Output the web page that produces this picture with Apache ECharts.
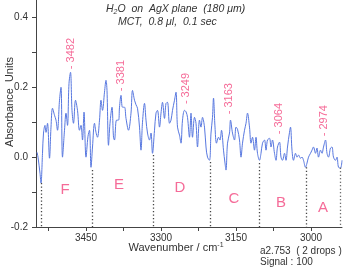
<!DOCTYPE html>
<html>
<head>
<meta charset="utf-8">
<script src="https://cdn.jsdelivr.net/npm/echarts@6/dist/echarts.min.js"></script>
<style>html,body{margin:0;padding:0;background:#fff;}#c{width:343px;height:268px;}</style>
</head>
<body>
<div id="c"></div>
<script>
const wavenumbers = [3548,3546,3542,3540,3537,3535,3532,3530,3527,3523,3520,3517,3513,3510,3507,3503,3500,3497,3493,3490,3487,3484,3481,3478,3475,3471,3467,3463,3460,3457,3454,3450,3446,3443,3440,3437,3433,3430,3427,3423,3420,3417,3413,3410,3408,3405,3402,3398,3395,3393,3389,3385,3383,3380,3377,3373,3370,3365,3360,3357,3353,3350,3347,3343,3340,3337,3333,3330,3327,3323,3320,3317,3313,3310,3307,3303,3300,3297,3293,3290,3287,3283,3280,3277,3273,3270,3267,3263,3260,3257,3253,3250,3247,3243,3240,3237,3233,3230,3227,3223,3220,3217,3213,3210,3207,3203,3200,3197,3195,3192,3189,3185,3182,3179,3175,3172,3170,3167,3163,3161,3157,3153,3150,3147,3143,3140,3137,3133,3130,3127,3123,3120,3117,3113,3110,3107,3103,3100,3097,3093,3090,3087,3083,3080,3077,3073,3070,3067,3063,3060,3057,3053,3050,3047,3043,3041,3038,3035,3031,3028,3025,3021,3018,3015,3011,3008,3005,3001,2998,2995,2991,2988,2985,2981,2978,2975,2971,2968,2965,2961,2958,2955,2951,2948,2945,2941,2938];
const absorbance = [0.014,0.0,-0.046,-0.074,0.011,0.069,0.091,0.071,0.097,-0.003,0.086,0.14,0.12,0.106,0.077,0.163,0.2,0.0,0.077,0.126,0.091,0.211,0.243,0.134,0.097,0.163,0.134,0.077,0.091,0.049,0.129,0.0,0.06,0.077,-0.029,0.029,0.097,0.071,0.057,0.106,0.163,0.134,0.186,0.22,0.191,0.034,0.097,0.143,0.057,0.049,0.106,0.106,0.143,0.177,0.143,0.143,0.111,0.077,0.126,0.191,0.163,0.15,0.14,0.086,0.02,0.1,0.154,0.106,0.069,0.049,0.069,0.011,0.077,0.126,0.134,0.086,0.126,0.157,0.111,0.154,0.157,0.097,0.106,0.134,0.163,0.186,0.086,0.063,0.04,0.106,0.134,0.13,0.114,0.057,0.126,0.057,0.114,0.097,0.029,0.106,0.086,0.114,0.086,0.029,0.0,-0.009,0.069,0.114,0.169,0.086,0.04,0.057,0.049,0.077,0.02,-0.017,-0.037,0.04,0.069,0.106,0.069,0.049,0.086,0.08,0.049,0.0,0.04,0.077,0.097,0.126,0.086,0.04,0.057,0.02,0.057,0.011,-0.009,0.011,0.04,0.049,0.02,0.049,0.054,0.029,0.049,0.011,-0.009,0.029,0.043,0.0,-0.009,0.011,-0.009,0.029,0.071,0.086,0.02,-0.009,0.011,0.0,0.006,-0.003,0.0,-0.009,-0.029,-0.017,0.0,0.011,0.02,0.029,0.011,0.026,0.0,0.02,0.011,0.029,0.049,0.011,0.0,0.026,0.029,0.0,-0.009,0.0,-0.029,-0.031,-0.009];

const peakLabels = ['3482','3381','3249','3163','3064','2974'];
const peakWn = [3480,3380,3250,3164,3064,2974];
const peakAbs = [0.249,0.186,0.149,0.12,0.063,0.057];

const dividerWn = [3540,3438,3316,3202,3104,3010,2942];
const dividerTop = [-0.074,-0.037,0.006,-0.014,-0.017,-0.029,-0.03];

const regionLetters = ['F','E','D','C','B','A'];
const regionWn = [3492,3384,3262,3154,3060,2976];
const regionAbs = [-0.094,-0.08,-0.089,-0.12,-0.131,-0.146];

const xTickLabels = [3450,3300,3150,3000];
const xTicks = [3525,3450,3375,3300,3225,3150,3075,3000];
const yTickLabels = [-0.2,0,0.2,0.4];
const yTicks = [-0.2,-0.1,0,0.1,0.2,0.3,0.4];

const FONT = 'Liberation Sans, Arial, sans-serif';
const PINK = '#f2467e';
const chart = echarts.init(document.getElementById('c'), null, {renderer:'canvas'});

const spectrum = wavenumbers.map((w,i)=>[w, absorbance[i]]);
const peaks = peakWn.map((w,i)=>({value:[w, peakAbs[i]], name:peakLabels[i]}));
const letters = regionWn.map((w,i)=>({value:[w, regionAbs[i]], name:regionLetters[i]}));
const dividers = dividerWn.map((w,i)=>[{coord:[w, dividerTop[i]]},{coord:[w, -0.2]}]);

chart.setOption({
  animation:false,
  backgroundColor:'#fff',
  grid:{left:36, right:1, top:0, bottom:41, containLabel:false},
  xAxis:{
    type:'value', min:2938, max:3550, inverse:true,
    axisLine:{show:true, onZero:false, lineStyle:{color:'#444', width:1}},
    axisTick:{show:true, customValues:xTicks, length:4, lineStyle:{color:'#444'}},
    axisLabel:{customValues:xTickLabels, color:'#333', fontSize:10, fontFamily:FONT, margin:6,
      formatter:v=>String(Math.round(v))},
    splitLine:{show:false}
  },
  yAxis:{
    type:'value', min:-0.2, max:0.45,
    axisLine:{show:true, onZero:false, lineStyle:{color:'#444', width:1}},
    axisTick:{show:true, customValues:yTicks, length:4, lineStyle:{color:'#444'}},
    axisLabel:{customValues:yTickLabels, color:'#333', fontSize:10, fontFamily:FONT, margin:8,
      formatter:v=>(Math.abs(v)<1e-9?0:v).toFixed(1)},
    splitLine:{show:false}
  },
  series:[
    {type:'line', data:spectrum, showSymbol:false, smooth:0.35, clip:true,
      lineStyle:{color:'#5878e0', width:1}, silent:true,
      markLine:{silent:true, symbol:'none', label:{show:false},
        lineStyle:{color:'#444', type:[1.2,2.3], width:1.3}, data:dividers}},
    {type:'scatter', data:peaks, symbolSize:0, silent:true,
      label:{show:true, formatter:p=>'- '+p.name, rotate:90, position:'top', distance:1,
        align:'left', verticalAlign:'middle', color:PINK, fontSize:11, fontFamily:FONT}},
    {type:'scatter', data:letters, symbolSize:0, silent:true,
      label:{show:true, formatter:p=>p.name, position:'inside', color:PINK, fontSize:15, fontFamily:FONT}}
  ],
  graphic:[
    {type:'text', left:106, top:4, style:{
      text:'{i|H}{s|2}{i|O  on  AgX plane  (180 \u03bcm)}',
      rich:{i:{fontSize:10.5, fontStyle:'italic', fontFamily:FONT, fill:'#333', lineHeight:13},
            s:{fontSize:7, fontStyle:'italic', fontFamily:FONT, fill:'#333', verticalAlign:'bottom', lineHeight:9}}}},
    {type:'text', left:118, top:17, style:{text:'MCT,  0.8 \u03bcl,  0.1 sec', font:'italic 10.5px '+FONT, fill:'#333'}},
    {type:'text', x:10, y:102, rotation:Math.PI/2, style:{text:'Absorbance  Units', font:'11px '+FONT, fill:'#333', align:'center', verticalAlign:'middle'}},
    {type:'text', x:176, y:248, style:{text:'{n|Wavenumber / cm}{p|-1}',
      align:'center', verticalAlign:'middle',
      rich:{n:{fontSize:11, fontFamily:FONT, fill:'#333', lineHeight:13},
            p:{fontSize:7, fontFamily:FONT, fill:'#333', verticalAlign:'top', lineHeight:9}}}},
    {type:'text', left:260, top:246, style:{text:'a2.753  ( 2 drops )', font:'10px '+FONT, fill:'#333'}},
    {type:'text', left:260, top:257, style:{text:'Signal : 100', font:'10px '+FONT, fill:'#333'}}
  ]
});
</script>
</body>
</html>
